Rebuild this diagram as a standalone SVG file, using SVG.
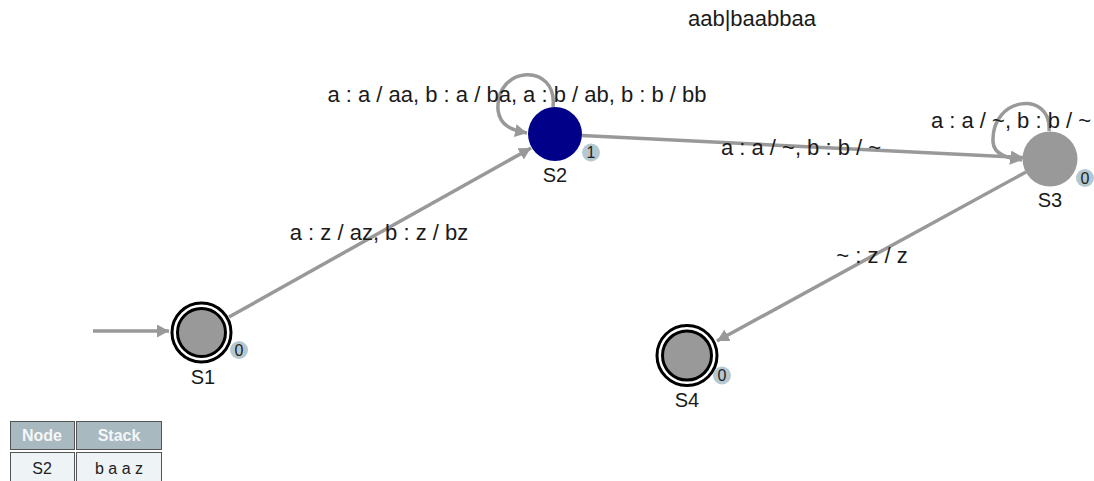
<svg xmlns="http://www.w3.org/2000/svg" width="1094" height="481" viewBox="0 0 1094 481">
<defs>
<style>
.lbl{font-family:"Liberation Sans",Arial,sans-serif;font-size:22px;fill:#1a1a1a;text-anchor:middle}
.name{font-family:"Liberation Sans",Arial,sans-serif;font-size:20px;fill:#1a1a1a;text-anchor:middle}
.badge{fill:#b5c8d0}
.btxt{font-family:"Liberation Sans",Arial,sans-serif;font-size:16px;fill:#222;text-anchor:middle}
.edge{fill:none;stroke:#999;stroke-width:3.5}
.ring{fill:#fff;stroke:#000;stroke-width:3}
.acc{fill:#999;stroke:#000;stroke-width:3}
.th{font-family:"Liberation Sans",Arial,sans-serif;font-size:16px;font-weight:bold;fill:#f4f6f7;text-anchor:middle}
.td{font-family:"Liberation Sans",Arial,sans-serif;font-size:16px;fill:#222;text-anchor:middle}
</style>
<marker id="arr" markerUnits="userSpaceOnUse" markerWidth="14" markerHeight="13" refX="12" refY="6.5" orient="auto">
<path d="M0,0 L12,6.5 L0,13 z" fill="#999"/>
</marker>
</defs>
<text class="lbl" x="752" y="26">aab|baabbaa</text>
<g id="connectors">
<path class="edge" d="M93,331 L169,331" marker-end="url(#arr)"/>
<path class="edge" d="M229,317 L531,148" marker-end="url(#arr)"/>
<path class="edge" d="M582,135.4 L1023,157.6" marker-end="url(#arr)"/>
<path class="edge" d="M1026,172 L717,341" marker-end="url(#arr)"/>
<path class="edge" d="M553,107 C558,62 495,65 498,110 C500,126 512,130 527,133" marker-end="url(#arr)"/>
<path class="edge" d="M1049,131 C1052,90 991,96 993,142 C994,155 1008,158 1022,160" marker-end="url(#arr)"/>
<text class="lbl" x="379" y="240">a : z / az, b : z / bz</text>
<text class="lbl" x="517" y="102">a : a / aa, b : a / ba, a : b / ab, b : b / bb</text>
<text class="lbl" x="801" y="155">a : a / ~, b : b / ~</text>
<text class="lbl" x="1011" y="128">a : a / ~, b : b / ~</text>
<text class="lbl" x="872" y="263">~ : z / z</text>
</g>
<g id="S1">
<circle class="ring" cx="201.5" cy="332.5" r="29.5"/>
<circle class="acc" cx="201.5" cy="332.5" r="24"/>
<circle class="badge" cx="239" cy="350" r="9"/>
<text class="btxt" x="239" y="355.5">0</text>
<text class="name" x="203" y="384">S1</text>
</g>
<g id="S2">
<circle cx="555" cy="134" r="27" fill="#000088"/>
<circle class="badge" cx="591" cy="152.5" r="9"/>
<text class="btxt" x="591" y="158">1</text>
<text class="name" x="555" y="182">S2</text>
</g>
<g id="S3">
<circle cx="1050" cy="159" r="27.5" fill="#999"/>
<circle class="badge" cx="1085" cy="178" r="9"/>
<text class="btxt" x="1085" y="183.5">0</text>
<text class="name" x="1050" y="207">S3</text>
</g>
<g id="S4">
<circle class="ring" cx="687" cy="355.5" r="30"/>
<circle class="acc" cx="687" cy="355.5" r="24.5"/>
<circle class="badge" cx="722" cy="375.5" r="9"/>
<text class="btxt" x="722" y="381">0</text>
<text class="name" x="687" y="407">S4</text>
</g>
<g id="table">
<rect x="9" y="420" width="153" height="70" fill="#fff"/>
<rect x="10.5" y="421.5" width="64" height="28" fill="#a9b9c0" stroke="#555" stroke-width="1"/>
<rect x="76.5" y="421.5" width="85" height="28" fill="#a9b9c0" stroke="#555" stroke-width="1"/>
<rect x="10.5" y="452.5" width="64" height="32" fill="#eef3f6" stroke="#555" stroke-width="1"/>
<rect x="76.5" y="452.5" width="85" height="32" fill="#eef3f6" stroke="#555" stroke-width="1"/>
<text class="th" x="42" y="441">Node</text>
<text class="th" x="119" y="441">Stack</text>
<text class="td" x="42" y="474">S2</text>
<text class="td" x="119" y="474">b a a z</text>
</g>
</svg>
